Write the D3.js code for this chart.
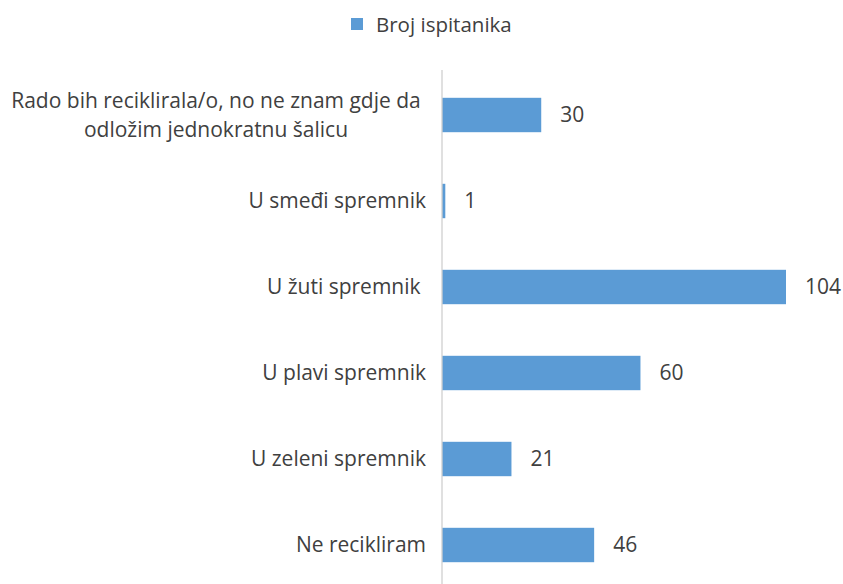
<!DOCTYPE html>
<html>
<head>
<meta charset="utf-8">
<script src="https://cdn.jsdelivr.net/npm/d3@7"></script>
<style>
body { margin: 0; background: #fff; }
</style>
</head>
<body>
<script>
// data
var categories = [
  ["Rado bih reciklirala/o, no ne znam gdje da", "odložim jednokratnu šalicu"],
  ["U smeđi spremnik"],
  ["U žuti spremnik "],
  ["U plavi spremnik"],
  ["U zeleni spremnik"],
  ["Ne recikliram"]
];
var values = [30, 1, 104, 60, 21, 46];
var seriesName = "Broj ispitanika";

var W = 843, H = 584;
var font = "'Open Sans', sans-serif";
var textCol = "#404040";
var barCol = "#5b9bd5";

var svg = d3.select("body").append("svg").attr("width", W).attr("height", H);

var x = d3.scaleLinear().domain([0, 104]).range([442, 786]);
var y = d3.scaleBand().domain(d3.range(values.length)).range([72, 588])
  .paddingInner(0.6).paddingOuter(0.3);

// legend
var leg = svg.append("g");
leg.append("rect").attr("x", 351).attr("y", 18).attr("width", 12).attr("height", 12).style("fill", barCol);
leg.append("text").attr("x", 376).attr("y", 32).text(seriesName)
  .style("font-family", font).style("font-size", "20.5px").style("fill", textCol);

// bars
svg.selectAll(".bar").data(values).enter().append("rect")
  .attr("class", "bar")
  .attr("x", x(0))
  .attr("y", function(d, i){ return y(i); })
  .attr("width", function(d){ return x(d) - x(0); })
  .attr("height", y.bandwidth())
  .style("fill", barCol);

// axis line
svg.append("line").attr("x1", x(0)).attr("x2", x(0)).attr("y1", 70).attr("y2", H)
  .style("stroke", "#d0d0d0").style("stroke-width", 1.3);

// category labels
var lab = svg.selectAll(".lab").data(categories).enter().append("text")
  .attr("class", "lab")
  .attr("text-anchor", "middle")
  .style("white-space", "pre")
  .style("font-family", font).style("font-size", "21px").style("fill", textCol);
lab.each(function(d, i){
  var t = d3.select(this);
  var cy = y(i) + y.bandwidth() / 2;
  var start = cy - (d.length - 1) * 14.5 + 7;
  d.forEach(function(line, k){
    t.append("tspan").attr("x", d.length > 1 ? 216 : 337).attr("y", start + k * 29).text(line);
  });
});
// right-align single-line labels
lab.filter(function(d){ return d.length == 1; }).attr("text-anchor", "end")
  .selectAll("tspan").attr("x", 426);

// value labels
svg.selectAll(".val").data(values).enter().append("text")
  .attr("class", "val")
  .attr("x", function(d){ return x(d) + 19; })
  .attr("y", function(d, i){ return y(i) + y.bandwidth() / 2 + 7; })
  .text(function(d){ return d; })
  .style("font-family", font).style("font-size", "21px").style("fill", textCol);
</script>
</body>
</html>
